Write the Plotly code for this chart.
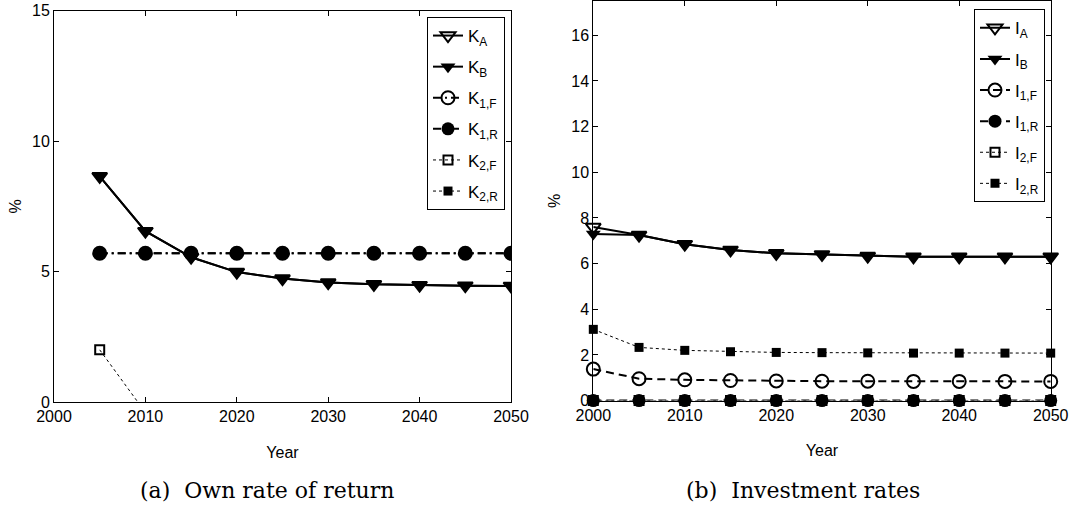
import plotly.graph_objects as go

# ---------------- data ----------------
years_a = [2005, 2010, 2015, 2020, 2025, 2030, 2035, 2040, 2045, 2050]
K_A = [8.65, 6.55, 5.55, 4.98, 4.73, 4.58, 4.51, 4.48, 4.46, 4.45]
K_B = [8.65, 6.55, 5.55, 4.98, 4.73, 4.58, 4.51, 4.48, 4.46, 4.45]
K_1F = [5.7, 5.7, 5.7, 5.7, 5.7, 5.7, 5.7, 5.7, 5.7, 5.7]
K_1R = [5.7, 5.7, 5.7, 5.7, 5.7, 5.7, 5.7, 5.7, 5.7, 5.7]
K_2F = [2.0, -0.4, None, None, None, None, None, None, None, None]
K_2R = [None, None, None, None, None, None, None, None, None, None]

years_b = [2000, 2005, 2010, 2015, 2020, 2025, 2030, 2035, 2040, 2045, 2050]
I_A = [7.6, 7.25, 6.85, 6.6, 6.45, 6.4, 6.33, 6.3, 6.3, 6.3, 6.3]
I_B = [7.3, 7.25, 6.85, 6.6, 6.45, 6.4, 6.33, 6.3, 6.3, 6.3, 6.3]
I_1F = [1.38, 0.96, 0.91, 0.88, 0.86, 0.85, 0.85, 0.84, 0.84, 0.84, 0.84]
I_1R = [0, 0, 0, 0, 0, 0, 0, 0, 0, 0, 0]
I_2F = [0, 0, 0, 0, 0, 0, 0, 0, 0, 0, 0]
I_2R = [3.12, 2.33, 2.2, 2.14, 2.11, 2.1, 2.09, 2.08, 2.08, 2.08, 2.08]

names_a = ["K<sub>A</sub>", "K<sub>B</sub>", "K<sub>1,F</sub>", "K<sub>1,R</sub>", "K<sub>2,F</sub>", "K<sub>2,R</sub>"]
names_b = ["I<sub>A</sub>", "I<sub>B</sub>", "I<sub>1,F</sub>", "I<sub>1,R</sub>", "I<sub>2,F</sub>", "I<sub>2,R</sub>"]
captions = ["(a)  Own rate of return", "(b)  Investment rates"]

# ---------------- styles ----------------
dashdot = "8px,4px,2px,4px"
dashed = "8px,5px"
styles_a = [
    dict(symbol="triangle-down-open", size=13, dash="solid", width=2),
    dict(symbol="triangle-down", size=13, dash="solid", width=2),
    dict(symbol="circle-open", size=13, dash=dashdot, width=2),
    dict(symbol="circle", size=13, dash=dashdot, width=2),
    dict(symbol="square-open", size=9, dash="dot", width=1),
    dict(symbol="square", size=9, dash="dot", width=1),
]
styles_b = [
    dict(symbol="triangle-down-open", size=13, dash="solid", width=2),
    dict(symbol="triangle-down", size=13, dash="solid", width=2),
    dict(symbol="circle-open", size=13, dash=dashed, width=2),
    dict(symbol="circle", size=13, dash=dashed, width=2),
    dict(symbol="square-open", size=9, dash="dot", width=1),
    dict(symbol="square", size=9, dash="dot", width=1),
]

fig = go.Figure()


def add(x, y, name, st, xa, ya, leg, grp, clip):
    fig.add_trace(go.Scatter(
        x=x, y=y, name=name, mode="lines+markers", legendgroup=grp,
        line=dict(color="black", width=st["width"], dash=st["dash"]),
        marker=dict(symbol=st["symbol"], size=st["size"], color="black",
                    line=dict(color="black", width=2 if "open" in st["symbol"] else 0)),
        xaxis=xa, yaxis=ya, legend=leg, cliponaxis=clip,
    ))


for i, (ys, nm, st) in enumerate(zip([K_A, K_B, K_1F, K_1R, K_2F, K_2R], names_a, styles_a)):
    add(years_a, ys, nm, st, "x", "y", "legend", "a%d" % i, True)
for i, (ys, nm, st) in enumerate(zip([I_A, I_B, I_1F, I_1R, I_2F, I_2R], names_b, styles_b)):
    add(years_b, ys, nm, st, "x2", "y2", "legend2", "b%d" % i, False)

SANS = "Liberation Sans"
tickfont = dict(family=SANS, size=16, color="black")
ax_common = dict(showline=True, linecolor="black", linewidth=1, mirror="allticks",
                 ticks="inside", ticklen=5, tickcolor="black", showgrid=False,
                 zeroline=False, tickfont=tickfont, automargin=False)

legfont = dict(family=SANS, size=17, color="black")

fig.update_layout(
    width=1088, height=511,
    margin=dict(l=0, r=0, t=0, b=0),
    paper_bgcolor="white", plot_bgcolor="white",
    xaxis=dict(domain=[54 / 1088, 511 / 1088], range=[2000, 2050], tickvals=[2000, 2010, 2020, 2030, 2040, 2050],
               title=dict(text="Year", font=tickfont, standoff=22), anchor="y", **ax_common),
    yaxis=dict(domain=[1 - 402 / 511, 1 - 10.7 / 511], range=[0, 15], tickvals=[0, 5, 10, 15],
               title=dict(text="%", font=tickfont, standoff=6), anchor="x", **ax_common),
    xaxis2=dict(domain=[593.3 / 1088, 1050.7 / 1088], range=[2000, 2050], tickvals=[2000, 2010, 2020, 2030, 2040, 2050],
                title=dict(text="Year", font=tickfont, standoff=22), anchor="y2", **ax_common),
    yaxis2=dict(domain=[1 - 400.6 / 511, 1 - 1 / 511], range=[0, 17.5], tickvals=[0, 2, 4, 6, 8, 10, 12, 14, 16],
                title=dict(text="%", font=tickfont, standoff=6), anchor="x2", **ax_common),
    legend=dict(x=427 / 1088, y=1 - 17 / 511, xanchor="left", yanchor="top",
                bgcolor="white", bordercolor="black", borderwidth=1,
                font=legfont, itemwidth=30, tracegroupgap=6),
    legend2=dict(x=974 / 1088, y=1 - 9.3 / 511, xanchor="left", yanchor="top",
                 bgcolor="white", bordercolor="black", borderwidth=1,
                 font=legfont, itemwidth=30, tracegroupgap=6),
    showlegend=True,
)

capfont = dict(family="DejaVu Serif", size=22, color="black")
for cx, txt in zip([267, 803], captions):
    fig.add_annotation(text=txt, x=cx / 1088, y=1 - 490 / 511, xref="paper", yref="paper",
                       xanchor="center", yanchor="middle", showarrow=False, font=capfont)

fig.write_html("out.html")
